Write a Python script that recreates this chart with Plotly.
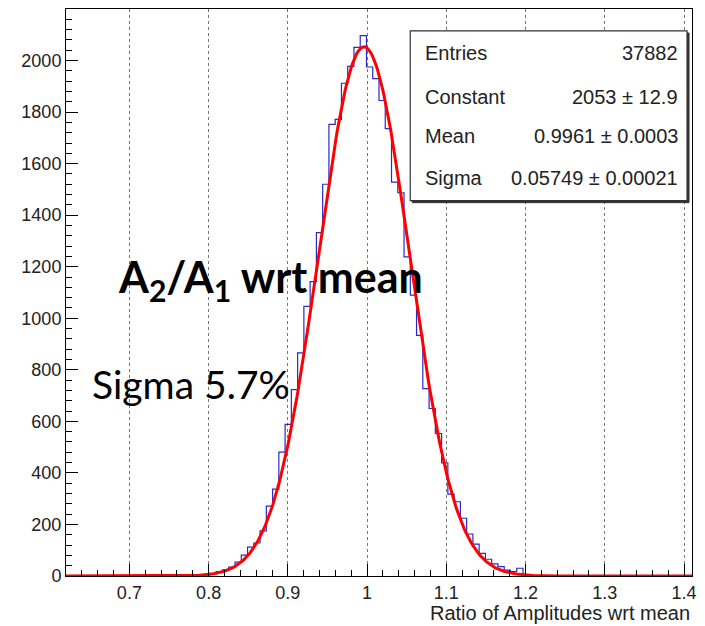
import numpy as np
import plotly.graph_objects as go

# ---- data ----
x_min, x_max, n_bins = 0.62, 1.41, 100
first_bin = 20
counts = [1, 2, 4, 8, 17, 24, 35, 54, 81, 112, 128, 175, 271, 337, 481, 588, 723, 866,
          1046, 1142, 1332, 1520, 1752, 1772, 1912, 1977, 2051, 2097,
          1975, 1930, 1845, 1736, 1528, 1487, 1238, 1090, 934, 727, 650, 553, 439,
          318, 288, 224, 163, 124, 88, 65, 47, 36, 23, 17, 30, 3, 2]
fit_constant, fit_mean, fit_sigma = 2053.0, 0.9961, 0.05749
stats_labels = ["Entries", "Constant", "Mean", "Sigma"]
stats_values = ["37882", "2053 \u00b1 12.9", "0.9961 \u00b1 0.0003", "0.05749 \u00b1 0.00021"]
x_ticks = [0.7, 0.8, 0.9, 1.0, 1.1, 1.2, 1.3, 1.4]
x_tick_text = ["0.7", "0.8", "0.9", "1", "1.1", "1.2", "1.3", "1.4"]
y_ticks = [0, 200, 400, 600, 800, 1000, 1200, 1400, 1600, 1800, 2000]
x_title = "Ratio of Amplitudes wrt mean"
label_main = "A<sub>2</sub>/A<sub>1</sub> wrt mean"
label_sigma = "Sigma 5.7%"

# ---- build histogram ----
full = np.zeros(n_bins)
full[first_bin:first_bin + len(counts)] = counts
edges = np.linspace(x_min, x_max, n_bins + 1)
hx = np.concatenate([[edges[0]], edges])
hy = np.concatenate([[0], full, [0]])

fx = np.linspace(x_min, x_max, 600)
fy = fit_constant * np.exp(-0.5 * ((fx - fit_mean) / fit_sigma) ** 2)

fig = go.Figure()
fig.add_trace(go.Scatter(x=hx, y=hy, mode="lines", line=dict(shape="hv", color="#2a2acc", width=1.2),
                         hoverinfo="skip", showlegend=False))
fig.add_trace(go.Scatter(x=fx, y=fy, mode="lines", line=dict(color="#ff0000", width=3),
                         hoverinfo="skip", showlegend=False))

font_tick = dict(family="Liberation Sans, Arial, sans-serif", size=18, color="#222")
fig.update_xaxes(range=[x_min, x_max], tickvals=x_ticks, ticktext=x_tick_text,
                 ticks="inside", ticklen=12, tickcolor="black", tickwidth=1,
                 showline=True, mirror=True, linecolor="black", linewidth=1,
                 showgrid=True, gridcolor="#777", griddash="dot", gridwidth=1,
                 zeroline=False, tickfont=font_tick,
                 minor=dict(ticks="inside", ticklen=6, dtick=0.02, tick0=0.0, tickcolor="black", showgrid=False))
fig.update_yaxes(range=[0, 2200], tickvals=y_ticks,
                 ticks="inside", ticklen=12, tickcolor="black", tickwidth=1,
                 showline=True, mirror=True, linecolor="black", linewidth=1,
                 showgrid=False, zeroline=False, tickfont=font_tick,
                 minor=dict(ticks="inside", ticklen=6, dtick=40, tick0=0, tickcolor="black", showgrid=False))

W, H = 705, 626
ml, mr, mt, mb = 66, 8, 8, 50
pw, ph = W - ml - mr, H - mt - mb
def px(x): return (x - ml) / pw
def py(y): return (H - mb - y) / ph

# stats box (with shadow)
fig.add_shape(type="rect", xref="paper", yref="paper", x0=px(415), x1=px(694), y0=py(202), y1=py(32),
              line=dict(color="#333", width=1), fillcolor="#333", layer="above")
fig.add_shape(type="rect", xref="paper", yref="paper", x0=px(413), x1=px(692), y0=py(200), y1=py(30),
              line=dict(color="#333", width=1.2), fillcolor="white", layer="above")
row_y = [52, 96, 135, 177]
sfont = dict(family="Liberation Sans, Arial, sans-serif", size=20, color="#222")
for lab, val, yy in zip(stats_labels, stats_values, row_y):
    fig.add_annotation(xref="paper", yref="paper", x=px(426), y=py(yy), text=lab, showarrow=False,
                       xanchor="left", yanchor="middle", font=sfont)
    fig.add_annotation(xref="paper", yref="paper", x=px(685), y=py(yy), text=val, showarrow=False,
                       xanchor="right", yanchor="middle", font=sfont)

fig.add_annotation(xref="paper", yref="paper", x=px(116), y=py(279), text=label_main, showarrow=False,
                   xanchor="left", yanchor="middle",
                   font=dict(family="Lato, sans-serif", size=43, color="black", weight="bold"))
fig.add_annotation(xref="paper", yref="paper", x=px(90), y=py(384), text=label_sigma, showarrow=False,
                   xanchor="left", yanchor="middle",
                   font=dict(family="Lato, sans-serif", size=39, color="black"))
fig.add_annotation(xref="paper", yref="paper", x=1.0, y=py(613), text=x_title, showarrow=False,
                   xanchor="right", yanchor="middle", font=sfont)

fig.update_layout(width=W, height=H, margin=dict(l=ml, r=mr, t=mt, b=mb),
                  plot_bgcolor="white", paper_bgcolor="white")
fig.write_html("out.html")
